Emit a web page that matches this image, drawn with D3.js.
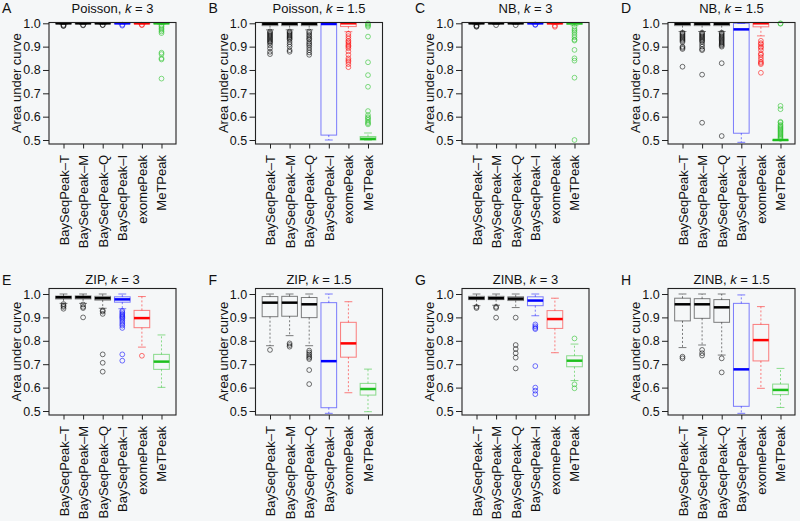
<!DOCTYPE html>
<html><head><meta charset="utf-8">
<script src="https://cdn.jsdelivr.net/npm/d3@7"></script>
<style>body{margin:0;background:#f5f7f8} text{font-family:"Liberation Sans",Arial,Helvetica,sans-serif}</style>
</head><body><svg id="c" width="800" height="521"></svg>
<script>
// ---- data ----
const methods = ["BaySeqPeak\u2013T","BaySeqPeak\u2013M","BaySeqPeak\u2013Q","BaySeqPeak\u2013I","exomePeak","MeTPeak"];
const panelLetters = ["A","B","C","D","E","F","G","H"];
const distNames = ["Poisson","Poisson","NB","NB","ZIP","ZIP","ZINB","ZINB"];
const kValues = ["3","1.5","3","1.5","3","1.5","3","1.5"];
const yTicks = [0.5,0.6,0.7,0.8,0.9,1.0];
const yLabel = "Area under curve";

// box stats per method: [lower whisker, Q1, median, Q3, upper whisker]
const statsA = [[0.995,0.999,1,1,1],[0.995,0.999,1,1,1],[0.995,0.999,1,1,1],[0.997,1,1,1,1],[0.997,1,1,1,1],[0.995,0.999,1,1,1]];
const outA = [[0.993,0.99,0.988],[0.993,0.991],[0.993,0.992],[0.994,0.99],[0.994,0.992],
  [0.99,0.985,0.978,0.972,0.965,0.958,0.874,0.868,0.85,0.845,0.763]];
const statsB = [[0.972,0.99,0.998,1,1],[0.972,0.99,0.998,1,1],[0.972,0.99,0.998,1,1],[0.5,0.521,0.997,1,1],[0.964,0.986,1,1,1],[0.5,0.5,0.505,0.515,0.53]];
const outB = [[0.965,0.96,0.955,0.95,0.945,0.94,0.935,0.93,0.925,0.92,0.915,0.905,0.893,0.878,0.868],
  [0.965,0.96,0.955,0.95,0.945,0.94,0.935,0.93,0.92,0.91,0.9,0.885,0.878],
  [0.965,0.958,0.95,0.943,0.935,0.93,0.92,0.912,0.905,0.895,0.885,0.875,0.865],
  [],
  [0.955,0.945,0.935,0.925,0.92,0.912,0.905,0.9,0.893,0.88,0.865,0.85,0.842,0.835,0.825,0.812],
  [1.0,0.995,0.99,0.985,0.943,0.833,0.778,0.728,0.624,0.607,0.598,0.593,0.586,0.578,0.572,0.567]];
const statsC = [[0.994,0.998,1,1,1],[0.995,0.998,1,1,1],[0.995,0.998,1,1,1],[0.997,1,1,1,1],[0.997,1,1,1,1],[0.99,0.996,1,1,1]];
const outC = [[0.99,0.987,0.985],[0.992],[0.992],[0.995,0.993],[0.99,0.985],
  [0.985,0.975,0.968,0.96,0.95,0.94,0.93,0.926,0.886,0.85,0.84,0.767,0.5]];
const statsD = [[0.965,0.99,0.998,1,1],[0.965,0.99,0.998,1,1],[0.965,0.99,0.998,1,1],[0.49,0.529,0.974,1,1],[0.946,0.985,1,1,1],[0.5,0.5,0.5,0.5,0.5]];
const outD = [[0.96,0.955,0.95,0.945,0.94,0.935,0.93,0.925,0.92,0.9,0.895,0.89,0.814],
  [0.96,0.955,0.95,0.945,0.94,0.935,0.93,0.925,0.92,0.91,0.9,0.89,0.885,0.78,0.574],
  [0.96,0.955,0.95,0.945,0.94,0.935,0.93,0.925,0.92,0.915,0.91,0.905,0.9,0.829,0.517],
  [],
  [0.925,0.915,0.91,0.9,0.895,0.885,0.87,0.865,0.855,0.845,0.835,0.83,0.825,0.788],
  [1.0,0.998,0.646,0.632,0.578,0.574,0.565,0.56,0.555,0.55,0.545,0.54,0.535,0.53,0.525,0.52,0.515,0.51,0.505]];
const statsE = [[0.96,0.979,0.986,0.991,1],[0.96,0.979,0.986,0.992,1],[0.939,0.974,0.982,0.99,1],[0.937,0.965,0.977,0.988,1],[0.773,0.856,0.897,0.93,0.989],[0.601,0.678,0.711,0.742,0.825]];
const outE = [[0.957,0.95,0.945,0.937],[0.955,0.945,0.94,0.9],[0.93,0.925,0.915,0.742,0.706,0.668],
  [0.928,0.922,0.915,0.91,0.905,0.9,0.895,0.888,0.88,0.872,0.865,0.855,0.742,0.715],[0.736],[]];
const statsF = [[0.779,0.903,0.963,0.989,1],[0.822,0.905,0.963,0.99,1],[0.779,0.899,0.956,0.985,1],[0.49,0.514,0.713,0.963,1],[0.578,0.73,0.789,0.879,0.967],[0.497,0.568,0.594,0.618,0.679]];
const outF = [[0.761],[0.789,0.782,0.775],[0.758,0.75,0.742,0.735,0.728,0.722,0.675,0.615],[],[],[]];
const statsG = [[0.95,0.976,0.982,0.99,1],[0.952,0.976,0.982,0.99,1],[0.942,0.972,0.98,0.988,1],[0.907,0.95,0.972,0.988,1],[0.749,0.853,0.893,0.929,0.982],[0.63,0.689,0.715,0.736,0.786]];
const outG = [[0.945,0.94],[0.945,0.94,0.899],[0.899,0.782,0.765,0.747,0.728,0.682],
  [0.87,0.862,0.855,0.85,0.692,0.6,0.587,0.572],[],[0.81,0.614,0.597]];
const statsH = [[0.771,0.885,0.956,0.982,1],[0.782,0.896,0.956,0.98,1],[0.739,0.879,0.943,0.976,1],[0.49,0.52,0.678,0.96,0.996],[0.597,0.714,0.803,0.87,0.946],[0.515,0.57,0.59,0.615,0.682]];
const outH = [[0.732,0.725],[0.761,0.747,0.737],[0.725,0.665],[],[],[]];

const allStats = [statsA,statsB,statsC,statsD,statsE,statsF,statsG,statsH];
const allOut = [outA,outB,outC,outD,outE,outF,outG,outH];

// ---- styles / layout ----
const seriesColors = ["#000000","#000000","#000000","#0000ff","#ff0000","#1fbf1f"];
const colLefts = [49, 255.5, 462, 668];
const frameW = 127;
const rows = [
  {top:22.5, bottom:144, yTop:23.3, yBot:140, titleY:12.7},
  {top:288.5, bottom:415, yTop:294, yBot:411, titleY:284.3}
];

const svg = d3.select("#c");
svg.append("rect").attr("width",800).attr("height",521).attr("fill","#f5f7f8");

allStats.forEach((stats, p) => {
  const col = p % 4, r = rows[Math.floor(p/4)];
  const left = colLefts[col], right = left + frameW;
  const x = d3.scaleLinear().domain([0.26, 6.74]).range([left, right]);
  const y = d3.scaleLinear().domain([0.5, 1.0]).range([r.yBot, r.yTop]);
  const step = x(2) - x(1);
  const g = svg.append("g");

  // boxes
  stats.forEach((s, j) => {
    const cx = x(j+1), hw = 0.4*step, cw = 0.2*step;
    const c = seriesColors[j];
    const bg = g.append("g");
    const light = sel => sel.attr("stroke", c).attr("stroke-opacity", 0.5).attr("fill","none");
    light(bg.append("line").attr("x1",cx).attr("x2",cx).attr("y1",y(s[1])).attr("y2",y(s[0]))).attr("stroke-dasharray","2,2");
    light(bg.append("line").attr("x1",cx).attr("x2",cx).attr("y1",y(s[3])).attr("y2",y(s[4]))).attr("stroke-dasharray","2,2");
    light(bg.append("line").attr("x1",cx-cw).attr("x2",cx+cw).attr("y1",y(s[0])).attr("y2",y(s[0])));
    light(bg.append("line").attr("x1",cx-cw).attr("x2",cx+cw).attr("y1",y(s[4])).attr("y2",y(s[4])));
    light(bg.append("rect").attr("x",cx-hw).attr("width",2*hw)
      .attr("y",y(s[3])).attr("height",Math.max(0.5, y(s[1])-y(s[3]))));
    bg.append("line").attr("x1",cx-hw).attr("x2",cx+hw).attr("y1",y(s[2])).attr("y2",y(s[2]))
      .attr("stroke",c).attr("stroke-width",2.5);
    bg.selectAll("circle.o").data(allOut[p][j]).enter().append("circle")
      .attr("cx",cx).attr("cy",d=>y(d)).attr("r",2.4)
      .attr("fill","none").attr("stroke",c).attr("stroke-opacity",0.55).attr("stroke-width",1);
  });

  // frame
  g.append("rect").attr("x",left).attr("y",r.top).attr("width",frameW).attr("height",r.bottom-r.top)
    .attr("fill","none").attr("stroke","#222").attr("stroke-width",1.1);

  // y axis
  const ya = g.append("g").attr("transform",`translate(${left},0)`)
    .call(d3.axisLeft(y).tickValues(yTicks).tickFormat(d3.format(".1f")).tickSize(6).tickPadding(2.3));
  ya.select(".domain").remove();
  ya.selectAll("line").attr("stroke","#222");
  ya.selectAll("text").attr("font-size",12.5).attr("fill","#111")
    .attr("font-family","'Liberation Sans',Arial,sans-serif");

  // x axis
  const xa = g.append("g").attr("transform",`translate(0,${r.bottom})`)
    .call(d3.axisBottom(x).tickValues([1,2,3,4,5,6]).tickFormat(d=>methods[d-1]).tickSize(4.5));
  xa.select(".domain").remove();
  xa.selectAll("line").attr("stroke","#222");
  xa.selectAll("text").attr("font-size",13).attr("fill","#111")
    .attr("font-family","'Liberation Sans',Arial,sans-serif")
    .attr("text-anchor","end").attr("dy",null).attr("y",0)
    .attr("transform","translate(4.5,11) rotate(-90)");

  // y label
  g.append("text").attr("transform",`translate(${left-28},${(r.top+r.bottom)/2}) rotate(-90)`)
    .attr("text-anchor","middle").attr("font-size",13).attr("fill","#111").text(yLabel);

  // title
  const t = g.append("text").attr("x",(left+right)/2).attr("y",r.titleY)
    .attr("text-anchor","middle").attr("font-size",13).attr("fill","#111");
  t.append("tspan").text(distNames[p] + ", ");
  t.append("tspan").attr("font-style","italic").text("k");
  t.append("tspan").text(" = " + kValues[p]);

  // panel letter
  g.append("text").attr("x",left-47).attr("y",r.titleY+0.6).attr("font-size",14).attr("fill","#111")
    .text(panelLetters[p]);
});
</script></body></html>
